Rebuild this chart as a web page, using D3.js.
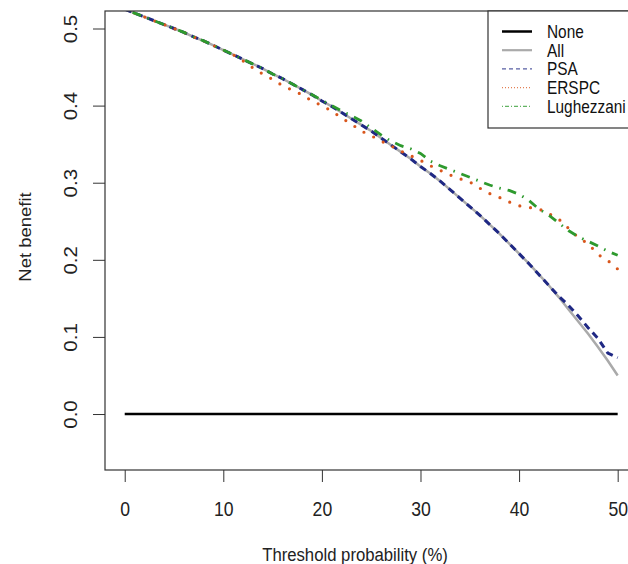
<!DOCTYPE html>
<html>
<head>
<meta charset="utf-8">
<script src="https://cdn.jsdelivr.net/npm/d3@7"></script>
<style>
  body { margin: 0; background: #fff; }
  svg { display: block; font-family: "Liberation Sans", Arial, sans-serif; }
</style>
</head>
<body>
<div id="chart"></div>
<script>
// threshold probability (%) and net benefit
const thresholds = d3.range(0, 51);
const netNone = thresholds.map(() => 0);
const netAll = [0.525, 0.520, 0.515, 0.510, 0.505, 0.500, 0.495, 0.489, 0.484, 0.478,
  0.472, 0.466, 0.460, 0.454, 0.448, 0.441, 0.435, 0.428, 0.421, 0.414,
  0.406, 0.399, 0.391, 0.383, 0.375, 0.367, 0.358, 0.349, 0.340, 0.331,
  0.321, 0.312, 0.302, 0.291, 0.280, 0.269, 0.258, 0.246, 0.234, 0.221,
  0.208, 0.195, 0.181, 0.167, 0.152, 0.136, 0.120, 0.104, 0.087, 0.069, 0.050];
const netPSA = [0.525, 0.520, 0.515, 0.510, 0.505, 0.500, 0.495, 0.489, 0.484, 0.478,
  0.472, 0.466, 0.460, 0.454, 0.448, 0.441, 0.435, 0.428, 0.421, 0.414,
  0.406, 0.399, 0.391, 0.383, 0.375, 0.367, 0.358, 0.349, 0.340, 0.331,
  0.321, 0.312, 0.302, 0.291, 0.280, 0.269, 0.258, 0.246, 0.234, 0.221,
  0.208, 0.195, 0.181, 0.167, 0.153, 0.141, 0.127, 0.112, 0.098, 0.079, 0.073];
const netERSPC = [0.525, 0.520, 0.515, 0.510, 0.505, 0.500, 0.495, 0.489, 0.484, 0.478,
  0.472, 0.466, 0.458, 0.449, 0.441, 0.434, 0.426, 0.420, 0.414, 0.406,
  0.400, 0.393, 0.384, 0.376, 0.367, 0.361, 0.354, 0.348, 0.341, 0.335,
  0.329, 0.322, 0.316, 0.310, 0.305, 0.301, 0.293, 0.286, 0.281, 0.275,
  0.270, 0.268, 0.266, 0.260, 0.253, 0.241, 0.229, 0.221, 0.207, 0.199, 0.188];
const netLugh = [0.525, 0.520, 0.515, 0.510, 0.505, 0.500, 0.495, 0.489, 0.484, 0.478,
  0.472, 0.466, 0.460, 0.454, 0.448, 0.441, 0.435, 0.428, 0.421, 0.414,
  0.407, 0.400, 0.393, 0.387, 0.380, 0.371, 0.362, 0.354, 0.348, 0.344,
  0.338, 0.328, 0.322, 0.317, 0.312, 0.307, 0.302, 0.297, 0.293, 0.290,
  0.285, 0.277, 0.266, 0.258, 0.248, 0.238, 0.230, 0.224, 0.218, 0.211, 0.206];
const xTicks = [0, 10, 20, 30, 40, 50];
const yTicks = [0.0, 0.1, 0.2, 0.3, 0.4, 0.5];
const seriesNames = ['None', 'All', 'PSA', 'ERSPC', 'Lughezzani'];

const W = 628, H = 564;
const SX = 0.88; // the picture is a little narrower than tall, text too
const svg = d3.select('#chart').append('svg').attr('width', W).attr('height', H);

const x = d3.scaleLinear().domain([-2, 52]).range([105, 637.4]);
const y = d3.scaleLinear().domain([-0.0726, 0.5227]).range([470, 11]);

const styles = {
  None:       { color: '#000000', width: 2.5, dash: null, cap: 'butt' },
  All:        { color: '#aaaaaa', width: 2.5, dash: null, cap: 'butt' },
  PSA:        { color: '#1f2884', width: 3, dash: '7,5', cap: 'butt' },
  ERSPC:      { color: '#d9561c', width: 3.2, dash: '0,10.8', cap: 'round' },
  Lughezzani: { color: '#2e9a2e', width: 2.8, dash: '1.5,7,9,7', cap: 'butt' }
};
const values = { None: netNone, All: netAll, PSA: netPSA, ERSPC: netERSPC, Lughezzani: netLugh };

svg.append('defs').append('clipPath').attr('id', 'plot-clip')
  .append('rect').attr('x', 105).attr('y', 11).attr('width', 532).attr('height', 459);

const line = d3.line().x((d, i) => x(thresholds[i])).y(d => y(d));

const plot = svg.append('g').attr('clip-path', 'url(#plot-clip)');
seriesNames.forEach(name => {
  const s = styles[name];
  plot.append('path')
    .datum(values[name])
    .attr('d', line)
    .attr('fill', 'none')
    .attr('stroke', s.color)
    .attr('stroke-width', s.width)
    .attr('stroke-linecap', s.cap)
    .attr('stroke-dasharray', s.dash);
});

// plot box
svg.append('rect')
  .attr('x', 105).attr('y', 11).attr('width', 532).attr('height', 459)
  .attr('fill', 'none').attr('stroke', '#333').attr('stroke-width', 1.2);

// x axis
const xAxis = svg.append('g').attr('transform', 'translate(0,470)')
  .call(d3.axisBottom(x).tickValues(xTicks).tickSize(12).tickFormat(d3.format('d')));
xAxis.select('.domain').remove();
xAxis.selectAll('line').attr('stroke', '#333');
xAxis.selectAll('.tick text')
  .attr('font-size', 20).attr('fill', '#222')
  .attr('y', 0).attr('dy', 0)
  .attr('transform', `translate(0,46) scale(${SX},1)`);

// y axis (labels rotated as in R)
const yAxis = svg.append('g').attr('transform', 'translate(105,0)')
  .call(d3.axisLeft(y).tickValues(yTicks).tickSize(12).tickFormat(d3.format('.1f')));
yAxis.select('.domain').remove();
yAxis.selectAll('line').attr('stroke', '#333');
yAxis.selectAll('.tick text')
  .attr('font-size', 20.5).attr('fill', '#222')
  .attr('x', 0).attr('dy', 0)
  .attr('text-anchor', 'middle')
  .attr('transform', `translate(-28,0) scale(${SX},1) rotate(-90)`);

// axis titles
svg.append('text')
  .attr('transform', `translate(355,561) scale(${SX},1)`)
  .attr('text-anchor', 'middle').attr('font-size', 19).attr('fill', '#222')
  .text('Threshold probability (%)');
svg.append('text')
  .attr('transform', `translate(31,237) scale(${SX},1) rotate(-90)`)
  .attr('text-anchor', 'middle').attr('font-size', 18.5).attr('fill', '#222')
  .text('Net benefit');

// legend
const legend = svg.append('g');
legend.append('rect')
  .attr('x', 488).attr('y', 11).attr('width', 180).attr('height', 117)
  .attr('fill', '#fff').attr('stroke', '#333').attr('stroke-width', 1.2);
const legendDash = { None: null, All: null, PSA: '4,3', ERSPC: '1,2', Lughezzani: '1,2,4,2' };
const legendWidth = { None: 2.5, All: 2.2, PSA: 1.2, ERSPC: 1.2, Lughezzani: 1.2 };
seriesNames.forEach((name, i) => {
  const ly = 31.5 + i * 18.7;
  legend.append('line')
    .attr('x1', 502).attr('x2', 532).attr('y1', ly).attr('y2', ly)
    .attr('stroke', styles[name].color)
    .attr('stroke-opacity', name === 'None' || name === 'All' ? 1 : 0.75)
    .attr('stroke-width', legendWidth[name])
    .attr('stroke-dasharray', legendDash[name]);
  legend.append('text')
    .attr('transform', `translate(547,${ly}) scale(${SX},1)`)
    .attr('dy', '0.36em')
    .attr('font-size', 17.5).attr('fill', '#111')
    .text(name);
});
</script>
</body>
</html>
